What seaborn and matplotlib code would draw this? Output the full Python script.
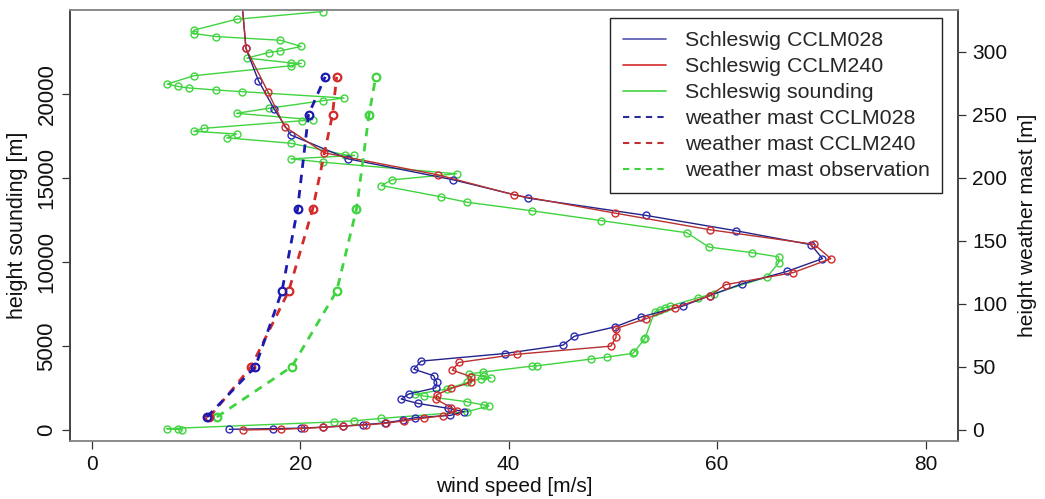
import matplotlib
matplotlib.use("Agg")
import matplotlib.pyplot as plt
import seaborn as sns
from matplotlib.lines import Line2D

# ---- Sounding profiles (left axis): wind speed [m/s] vs height [m] ----
ccl028_speed = [13.2, 17.4, 20.1, 22.2, 24.1, 26.0, 28.1, 29.9, 31.0, 34.4,
                35.7, 34.2, 31.3, 29.7, 30.4, 33.0, 33.1, 32.8, 30.9, 31.6,
                39.6, 45.2, 46.3, 50.2, 52.7, 56.7, 59.3, 62.4, 66.7, 70.1,
                69.0, 61.8, 53.2, 41.9, 34.7, 24.6, 19.1, 17.5, 16.0, 14.8,
                14.2]
ccl028_height = [40, 80, 110, 170, 230, 310, 420, 590, 730, 870,
                 1090, 1290, 1580, 1840, 2140, 2510, 2830, 3230, 3620, 4100,
                 4550, 5050, 5580, 6140, 6730, 7380, 8000, 8710, 9440, 10200,
                 11030, 11860, 12770, 13800, 14890, 16140, 17560, 19110, 20790, 22710,
                 27000]

ccl240_speed = [14.5, 18.2, 20.4, 22.2, 24.1, 26.3, 28.2, 30.0, 31.9, 33.7,
                35.0, 34.5, 33.05, 33.1, 34.5, 36.4, 36.4, 34.6, 35.2, 40.8,
                49.8, 50.3, 50.3, 53.2, 56.0, 59.3, 60.8, 67.3, 70.9, 69.3,
                59.3, 50.2, 40.5, 33.2, 22.3, 18.5, 16.9, 14.8, 14.2]
ccl240_height = [0, 40, 100, 160, 240, 300, 400, 550, 710, 850,
                 1130, 1330, 1820, 2100, 2480, 2830, 3170, 3560, 4020, 4510,
                 4990, 5510, 6040, 6630, 7290, 8000, 8650, 9370, 10200, 11050,
                 11920, 12910, 14000, 15190, 16500, 18060, 20140, 22710, 27000]

sounding_speed = [8.7, 8.3, 7.2, 23.2, 25.2, 27.8, 36.0, 38.1, 37.6, 36.0,
                  31.9, 31.0, 34.1, 36.0, 37.3, 38.3, 37.6, 36.2, 37.5, 42.2,
                  42.7, 47.9, 49.4, 51.9, 52.0, 53.0, 53.1, 54.0, 54.5, 55.0,
                  55.5, 58.2, 59.7, 64.8, 65.9, 65.9, 63.3, 59.2, 57.1, 48.9,
                  42.2, 36.0, 33.5, 27.8, 28.8, 35.0, 22.15, 19.1, 25.2, 24.3,
                  19.1, 12.95, 13.9, 9.8, 10.8, 20.2, 21.2, 13.9, 17.0, 22.15,
                  24.2, 14.4, 11.9, 9.3, 8.25, 7.25, 9.8, 19.1, 20.1, 19.1,
                  14.9, 17.0, 18.1, 20.1, 18.1, 11.9, 9.8, 9.8, 13.9, 22.15]
sounding_height = [0, 30, 80, 480, 550, 690, 1090, 1430, 1490, 1680,
                   2020, 2120, 2440, 2830, 3050, 3100, 3200, 3330, 3450, 3800,
                   3820, 4220, 4340, 4560, 4620, 5390, 5500, 7030, 7170, 7290,
                   7380, 7880, 8120, 9110, 9960, 10300, 10560, 10890, 11740, 12460,
                   13050, 13560, 13880, 14550, 14890, 15250, 15940, 16140, 16340, 16380,
                   17070, 17390, 17620, 17780, 17960, 18410, 18470, 18850, 19150, 19600,
                   19760, 20140, 20240, 20360, 20450, 20590, 21090, 21680, 21820, 21850,
                   22140, 22470, 22570, 22830, 23200, 23420, 23600, 23800, 24450, 24910]

# ---- Weather mast (right axis) ----
mast_height = [10, 50, 110, 175, 250, 280]
mast_ccl028 = [11.05, 15.7, 18.25, 19.75, 20.8, 22.4]
mast_ccl240 = [11.3, 15.3, 18.9, 21.2, 23.1, 23.5]
mast_obs = [12.0, 19.2, 23.5, 25.4, 26.6, 27.25]

x_ticks = [0, 20, 40, 60, 80]
left_ticks = [0, 5000, 10000, 15000, 20000]
right_ticks = [0, 50, 100, 150, 200, 250, 300]

legend_labels = ["Schleswig CCLM028", "Schleswig CCLM240", "Schleswig sounding",
                 "weather mast CCLM028", "weather mast CCLM240", "weather mast observation"]

sns.set_theme(style="white")
plt.rcParams["font.family"] = ["Liberation Sans", "DejaVu Sans"]

BLUE = "#2b2bb8"
RED = "#d42a2a"
GREEN = "#3fd43f"

fig = plt.figure(figsize=(10.45, 4.99), dpi=100)
ax = fig.add_axes([70 / 1045, 58 / 499, 888 / 1045, 431 / 499])
ax2 = ax.twinx()

common = dict(sort=False, estimator=None, marker="o", markersize=5,
              markerfacecolor="none", markeredgewidth=1.0, linewidth=1.0, legend=False)

sns.lineplot(x=sounding_speed, y=sounding_height, ax=ax, color=GREEN,
             markeredgecolor=GREEN, **common)
sns.lineplot(x=ccl028_speed, y=ccl028_height, ax=ax, color="#23238a",
             markeredgecolor=BLUE, **common)
sns.lineplot(x=ccl240_speed, y=ccl240_height, ax=ax, color="#b83030",
             markeredgecolor=RED, **common)

mast_kw = dict(sort=False, estimator=None, marker="o", markersize=5.5,
               markerfacecolor="none", markeredgewidth=1.6, linewidth=2.0,
               dashes=(3.0, 2.5), legend=False)
sns.lineplot(x=mast_obs, y=mast_height, ax=ax2, color=GREEN, markeredgecolor=GREEN, **mast_kw)
sns.lineplot(x=mast_ccl240, y=mast_height, ax=ax2, color=RED, markeredgecolor=RED, **mast_kw)
sns.lineplot(x=mast_ccl028, y=mast_height, ax=ax2, color="#1a1ab0", markeredgecolor="#1a1ab0", **mast_kw)

ax.set_xlim(-2.08, 83.1)
ax.set_ylim(-655, 25000)
ax2.set_ylim(-9, 333)

ax.set_xticks(x_ticks)
ax.set_xticklabels([str(v) for v in x_ticks])
ax.set_yticks(left_ticks)
ax.set_yticklabels([str(v) for v in left_ticks], rotation=90, va="center")
ax2.set_yticks(right_ticks)
ax2.set_yticklabels([str(v) for v in right_ticks])

for a in (ax, ax2):
    a.tick_params(axis="both", direction="out", length=6, width=0.9, color="#333333",
                  labelsize=15, labelcolor="#111111")
    for s in a.spines.values():
        s.set_linewidth(1.2)
ax.tick_params(axis="x", bottom=True, pad=4)
ax.tick_params(axis="y", left=True, pad=3, labelsize=16)
ax2.tick_params(axis="y", right=True, pad=4)
for a in (ax, ax2):
    a.spines["top"].set_color("#8a8a8a")
    a.spines["bottom"].set_color("#8a8a8a")
    a.spines["left"].set_color("#444444")
    a.spines["right"].set_color("#444444")

ax.set_xlabel("wind speed [m/s]", fontsize=15, labelpad=2, color="#111111")
ax.set_ylabel("height sounding [m]", fontsize=15.5, labelpad=6, color="#111111")
ax2.set_ylabel("height weather mast [m]", fontsize=15, labelpad=8, color="#111111")

handles = [
    Line2D([], [], color="#5555b0", lw=1.2),
    Line2D([], [], color=RED, lw=1.2),
    Line2D([], [], color=GREEN, lw=1.2),
    Line2D([], [], color="#2a2a9a", lw=1.5, dashes=(3, 2.5)),
    Line2D([], [], color="#c03030", lw=1.5, dashes=(3, 2.5)),
    Line2D([], [], color=GREEN, lw=1.5, dashes=(3, 2.5)),
]
leg = ax2.legend(handles, legend_labels, loc="upper right",
                 bbox_to_anchor=(0.9825, 0.981), borderaxespad=0, fontsize=15.4,
                 frameon=True, fancybox=False, framealpha=1, edgecolor="#222222",
                 handlelength=2.0, handletextpad=0.9, labelspacing=0.33, borderpad=0.6)
leg.get_frame().set_linewidth(1.0)

fig.savefig("out.png", dpi=100)
